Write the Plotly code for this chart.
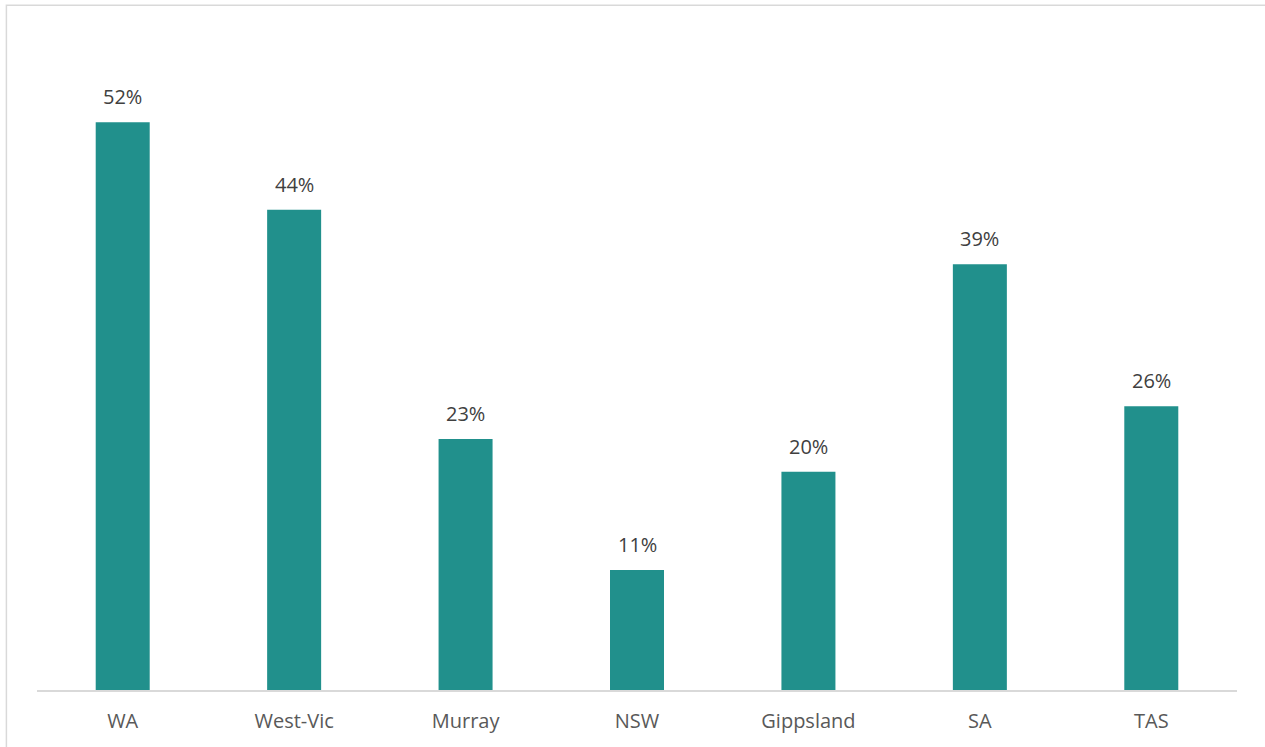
import plotly.graph_objects as go

regions = ["WA", "West-Vic", "Murray", "NSW", "Gippsland", "SA", "TAS"]
shares = [0.52, 0.44, 0.23, 0.11, 0.20, 0.39, 0.26]
labels = ["52%", "44%", "23%", "11%", "20%", "39%", "26%"]

BAR = "#21908C"
FONT = "'Open Sans', sans-serif"

fig = go.Figure(go.Bar(
    x=regions, y=shares, marker=dict(color=BAR, line=dict(width=0)),
    hoverinfo="skip",
))

for r, v, t in zip(regions, shares, labels):
    fig.add_annotation(x=r, y=v, text=t, showarrow=False, yanchor="bottom",
                       yshift=10, font=dict(family=FONT, size=20, color="#404040"))

fig.add_shape(type="rect", xref="paper", yref="paper",
              x0=-0.0255, x1=1.06, y0=-0.2, y1=1.0455,
              line=dict(color="#d9d9d9", width=1.5), fillcolor="rgba(0,0,0,0)", layer="below")

fig.update_layout(
    width=1265, height=747,
    margin=dict(l=37, r=28, t=35, b=57),
    paper_bgcolor="white", plot_bgcolor="white",
    bargap=0.685,
    showlegend=False,
    font=dict(family=FONT, size=20, color="#595959"),
    xaxis=dict(showline=True, linecolor="#d9d9d9", linewidth=1.5, ticks="",
               showgrid=False, ticklabelstandoff=12,
               tickfont=dict(family=FONT, size=20, color="#595959")),
    yaxis=dict(range=[0, 0.6], visible=False, showgrid=False, zeroline=False),
)

fig.write_html("out.html")
